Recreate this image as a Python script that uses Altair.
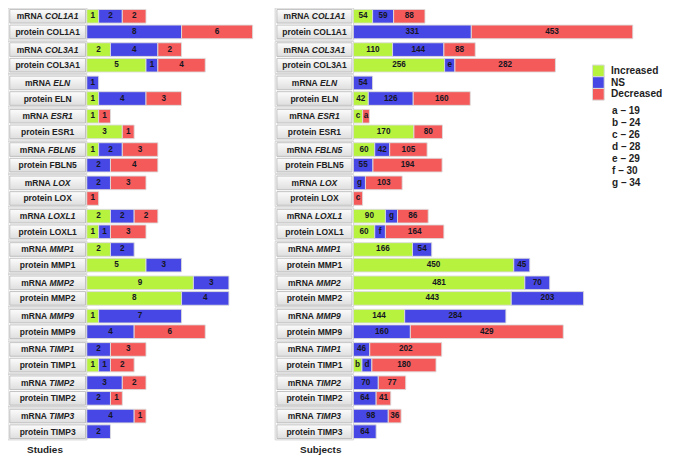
import altair as alt
import pandas as pd

# ---------------- data ----------------
genes = ["COL1A1", "COL3A1", "ELN", "ESR1", "FBLN5", "LOX", "LOXL1",
         "MMP1", "MMP2", "MMP9", "TIMP1", "TIMP2", "TIMP3"]
row_types = ["mRNA", "protein"]
categories = ["Increased", "NS", "Decreased"]
cat_colors = ["#b7f23f", "#4747e6", "#f45a5a"]

studies_mrna_increased = [1, 2, 0, 1, 1, 0, 2, 2, 9, 1, 0, 0, 0]
studies_mrna_ns        = [2, 4, 1, 0, 2, 2, 2, 2, 3, 7, 2, 3, 4]
studies_mrna_decreased = [2, 2, 0, 1, 3, 3, 2, 0, 0, 0, 3, 2, 1]
studies_prot_increased = [0, 5, 1, 3, 0, 0, 1, 5, 8, 0, 1, 0, 0]
studies_prot_ns        = [8, 1, 4, 0, 2, 0, 1, 3, 4, 4, 1, 2, 2]
studies_prot_decreased = [6, 4, 3, 1, 4, 1, 3, 0, 0, 6, 2, 1, 0]

subjects_mrna_increased = [54, 110, 0, 26, 60, 0, 90, 166, 481, 144, 0, 0, 0]
subjects_mrna_ns        = [59, 144, 54, 0, 42, 34, 34, 54, 70, 284, 46, 70, 98]
subjects_mrna_decreased = [88, 88, 0, 19, 105, 103, 86, 0, 0, 0, 202, 77, 36]
subjects_prot_increased = [0, 256, 42, 170, 0, 0, 60, 450, 443, 0, 24, 0, 0]
subjects_prot_ns        = [331, 29, 126, 0, 55, 0, 30, 45, 203, 160, 28, 64, 64]
subjects_prot_decreased = [453, 282, 160, 80, 194, 26, 164, 0, 0, 429, 180, 41, 0]

letter_codes = ["a", "b", "c", "d", "e", "f", "g"]
letter_values = [19, 24, 26, 28, 29, 30, 34]
notes = [f"{c} \u2013 {v}" for c, v in zip(letter_codes, letter_values)]

# ---------------- layout ----------------
S = 0.975
def P(v):  # horizontal layout position
    return (v - 1.5) * S
def Q(v):  # vertical layout position
    return (v - 1.5) * S

W, H = 656, 447
FONT = "Liberation Sans"
LFS = 8.7 * S     # row label font
VFS = 8.4 * S     # value font
TXT = "#161622"

letter_map = dict(zip(letter_values, letter_codes))
series = {
    ("studies", "mRNA"): [studies_mrna_increased, studies_mrna_ns, studies_mrna_decreased],
    ("studies", "protein"): [studies_prot_increased, studies_prot_ns, studies_prot_decreased],
    ("subjects", "mRNA"): [subjects_mrna_increased, subjects_mrna_ns, subjects_mrna_decreased],
    ("subjects", "protein"): [subjects_prot_increased, subjects_prot_ns, subjects_prot_decreased],
}
rows = []
for (panel, rtype), vals in series.items():
    for gi, g in enumerate(genes):
        start = 0
        for ci, c in enumerate(categories):
            v = vals[ci][gi]
            if v > 0:
                lab = letter_map.get(v, str(v)) if panel == "subjects" else str(v)
                rows.append(dict(panel=panel, gene=g, rtype=rtype, cat=c, value=v,
                                 start=start, end=start + v, mid=start + v / 2, label=lab))
            start += v
bars_df = pd.DataFrame(rows)

# Arial-bold advance widths (per 1000 em) for centring mixed-style labels
CW = {'A': 722, 'B': 722, 'C': 722, 'E': 667, 'F': 611, 'I': 278, 'L': 611, 'M': 833,
      'N': 722, 'O': 778, 'P': 667, 'R': 722, 'S': 667, 'T': 611, 'X': 667, ' ': 278, 'm': 889}
def tw(s):
    return sum(CW.get(ch, 556) for ch in s) * LFS / 1000.0

panels = {
    "studies": dict(box=(3.3, 81.0), outer=(1.5, 82.5), bars=(82.3, 252.4), dom=14, title_x=21),
    "subjects": dict(box=(277.3, 354.3), outer=(275.5, 356.0), bars=(355.7, 642.3), dom=784, title_x=301),
}

lab_rows = []
for panel, cfg in panels.items():
    cx = P((cfg["box"][0] + cfg["box"][1]) / 2)
    for g in genes:
        w1, wsp, w2 = tw("mRNA"), tw(" "), tw(g)
        left = cx - (w1 + wsp + w2) / 2
        lab_rows.append(dict(panel=panel, gene=g, rtype="mRNA", t1="mRNA", t2=g,
                             x1=left + w1, x2=left + w1 + wsp))
        lab_rows.append(dict(panel=panel, gene=g, rtype="protein",
                             t1="protein " + g, t2="", x1=cx, x2=cx))
lab_df = pd.DataFrame(lab_rows)

ident = alt.Scale(domain=[0, W], range=[0, W], nice=False, zero=False)
GENE_STEP = 34.17
ROW_H = 14.0
ROW_SHIFT = {"mRNA": 0.0, "protein": 16.0}

def Y(rtype):
    top = 3 + ROW_SHIFT[rtype]
    return alt.Y("gene:N", axis=None,
                 scale=alt.Scale(type="band", domain=genes,
                                 range=[Q(top), Q(top + 12 * GENE_STEP + ROW_H)],
                                 paddingInner=1 - ROW_H / GENE_STEP, paddingOuter=0))

gradient = alt.Gradient(gradient="linear", x1=0, x2=0, y1=0, y2=1,
                        stops=[alt.GradientStop(color="#fcfcfc", offset=0),
                               alt.GradientStop(color="#dedede", offset=1)])
color_scale = alt.Scale(domain=categories, range=cat_colors)

layers = []
for panel, cfg in panels.items():
    # group outline
    layers.append(alt.Chart(pd.DataFrame({"gene": genes})).mark_rect(
        fill="white", stroke="#d2d2d2", strokeWidth=1).encode(
        x=alt.value(P(cfg["outer"][0])), x2=alt.value(P(cfg["outer"][1])),
        y=alt.Y("gene:N", axis=None,
                scale=alt.Scale(type="band", domain=genes,
                                range=[Q(1.6), Q(1.6 + 12 * GENE_STEP + 32.8)],
                                paddingInner=1 - 32.8 / GENE_STEP, paddingOuter=0))))
    xs = alt.Scale(domain=[0, cfg["dom"]], range=[P(cfg["bars"][0]), P(cfg["bars"][1])],
                   nice=False, zero=False)
    for rtype in row_types:
        ldf = lab_df[(lab_df.panel == panel) & (lab_df.rtype == rtype)]
        bdf = bars_df[(bars_df.panel == panel) & (bars_df.rtype == rtype)]
        # label boxes
        layers.append(alt.Chart(ldf).mark_rect(fill=gradient, stroke="#b4b4b4", strokeWidth=0.8)
                      .encode(x=alt.value(P(cfg["box"][0])), x2=alt.value(P(cfg["box"][1])),
                              y=Y(rtype)))
        # label texts
        if rtype == "mRNA":
            layers.append(alt.Chart(ldf).mark_text(
                font=FONT, fontSize=LFS, fontWeight="bold", color="#222222",
                align="right", baseline="middle").encode(
                x=alt.X("x1:Q", scale=ident, axis=None), y=Y(rtype), text="t1:N"))
            layers.append(alt.Chart(ldf).mark_text(
                font=FONT, fontSize=LFS, fontWeight="bold", fontStyle="italic", color="#222222",
                align="left", baseline="middle").encode(
                x=alt.X("x2:Q", scale=ident, axis=None), y=Y(rtype), text="t2:N"))
        else:
            layers.append(alt.Chart(ldf).mark_text(
                font=FONT, fontSize=LFS, fontWeight="bold", color="#222222",
                align="center", baseline="middle").encode(
                x=alt.X("x1:Q", scale=ident, axis=None), y=Y(rtype), text="t1:N"))
        # bars
        layers.append(alt.Chart(bdf).mark_bar(stroke="#dddddd", strokeWidth=0.9, opacity=1).encode(
            x=alt.X("start:Q", scale=xs, axis=None), x2="end:Q", y=Y(rtype),
            color=alt.Color("cat:N", scale=color_scale, legend=None)))
        layers.append(alt.Chart(bdf).mark_text(
            font=FONT, fontSize=VFS, fontWeight="bold", color=TXT,
            align="center", baseline="middle").encode(
            x=alt.X("mid:Q", scale=xs, axis=None), y=Y(rtype), text="label:N"))
    # panel title
    layers.append(alt.Chart(pd.DataFrame({"t": ["Studies" if panel == "studies" else "Subjects"]}))
                  .mark_text(font=FONT, fontSize=10.2 * S, fontWeight="bold", color="#1e1e1e",
                             align="left", baseline="alphabetic")
                  .encode(x=alt.value(P(cfg["title_x"])), y=alt.value(Q(458.3)), text="t:N"))

# legend (colour keys)
leg_df = pd.DataFrame({"cat": categories})
leg_y = alt.Y("cat:N", axis=None,
              scale=alt.Scale(type="band", domain=categories, range=[Q(60), Q(96)],
                              paddingInner=0, paddingOuter=0))
layers.append(alt.Chart(leg_df).mark_rect(stroke="#d9d9d9", strokeWidth=1).encode(
    x=alt.value(P(601)), x2=alt.value(P(613)), y=leg_y,
    color=alt.Color("cat:N", scale=color_scale, legend=None)))
layers.append(alt.Chart(leg_df).mark_text(
    font=FONT, fontSize=10.4 * S, fontWeight="bold", color="#1e1e1e",
    align="left", baseline="middle").encode(x=alt.value(P(620)), y=leg_y, text="cat:N"))

# letter notes
layers.append(alt.Chart(pd.DataFrame({"note": notes})).mark_text(
    font=FONT, fontSize=10.3 * S, fontWeight="bold", color="#1e1e1e",
    align="left", baseline="middle").encode(
    x=alt.value(P(621)),
    y=alt.Y("note:N", scale=alt.Scale(type="point", domain=notes, range=[Q(107), Q(181)],
                                      padding=0), axis=None),
    text="note:N"))

chart = alt.layer(*layers).resolve_scale(
    x="independent", y="independent"
).properties(
    width=W, height=H, autosize=alt.AutoSizeParams(type="none"), padding=0
).configure_view(stroke=None)

chart.save("out.html", embed_options={"renderer": "svg", "actions": False})
